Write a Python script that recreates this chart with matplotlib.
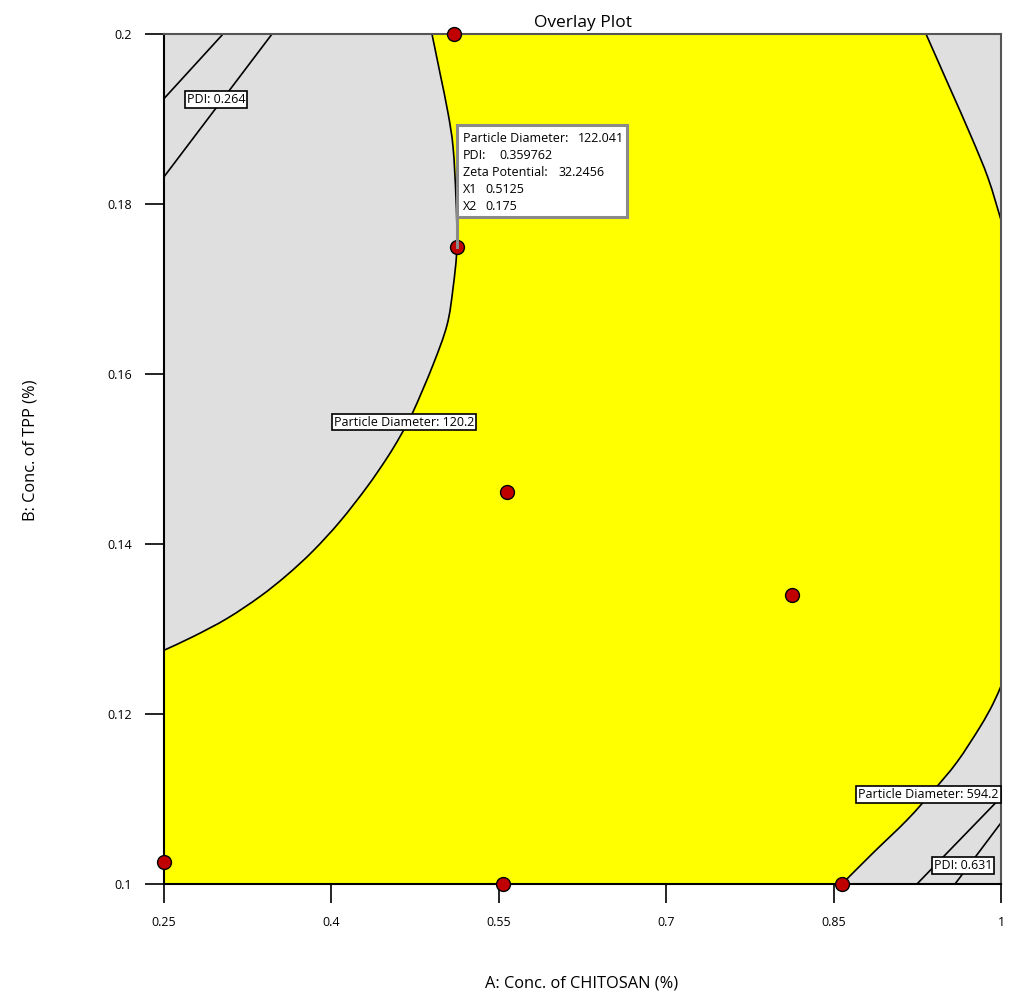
import matplotlib.pyplot as plt
from matplotlib.patches import Rectangle, PathPatch
from matplotlib.path import Path

plt.rcParams['font.family'] = ['Open Sans', 'DejaVu Sans']

# design points (A: chitosan %, B: TPP %)
pts_a = [0.51, 0.5125, 0.557, 0.8127, 0.25, 0.5538, 0.8575]
pts_b = [0.2, 0.175, 0.1461, 0.134, 0.1026, 0.1, 0.1]

# Particle Diameter = 120.2 boundary (left)
pd_low_a = [0.25, 0.2760, 0.3065, 0.3360, 0.3602, 0.3835, 0.4077, 0.4319, 0.4498, 0.4615,
            0.4731, 0.4910, 0.5036, 0.5090, 0.5125, 0.5116, 0.5090, 0.5045, 0.4973, 0.4901]
pd_low_b = [0.1275, 0.1291, 0.13124, 0.13382, 0.13635, 0.13918, 0.14265, 0.14671, 0.15012,
            0.15265, 0.15553, 0.16106, 0.16576, 0.17012, 0.1750, 0.1808, 0.1867, 0.1907,
            0.1954, 0.2]

# Particle Diameter = 594.2 boundary (top right and bottom right pieces)
pd_high_top_a = [0.9328, 0.9534, 0.9731, 0.9884, 1.0]
pd_high_top_b = [0.2, 0.19388, 0.1880, 0.18306, 0.17812]
pd_high_bot_a = [1.0, 0.9928, 0.9812, 0.9606, 0.9391, 0.9158, 0.8853, 0.8575]
pd_high_bot_b = [0.12329, 0.12118, 0.11847, 0.11435, 0.11094, 0.10753, 0.10365, 0.1]

# PDI contour lines
pdi_lines = [
    ([0.25, 0.3029], [0.1924, 0.2]),
    ([0.25, 0.3468], [0.1832, 0.2]),
    ([0.9247, 1.0], [0.1, 0.1102]),
    ([0.9588, 1.0], [0.1, 0.1072]),
]

contour_labels = [
    ('PDI: 0.264', 0.2966, 0.19229),
    ('Particle Diameter: 120.2', 0.4650, 0.15435),
    ('Particle Diameter: 594.2', 0.9350, 0.11053),
    ('PDI: 0.631', 0.9659, 0.10218),
]

flag_names = ['Particle Diameter:', 'PDI:', 'Zeta Potential:', 'X1', 'X2']
flag_values = ['122.041', '0.359762', '32.2456', '0.5125', '0.175']

x_ticks = [0.25, 0.4, 0.55, 0.7, 0.85, 1]
x_ticklabels = ['0.25', '0.4', '0.55', '0.7', '0.85', '1']
y_ticks = [0.1, 0.12, 0.14, 0.16, 0.18, 0.2]
y_ticklabels = ['0.1', '0.12', '0.14', '0.16', '0.18', '0.2']


def smooth_segments(xs, ys):
    # cubic bezier pieces (Catmull-Rom) passing through every given point
    p = list(zip(xs, ys))
    n = len(p)
    verts = []
    for i in range(n - 1):
        p0, p1, p2, p3 = p[max(i - 1, 0)], p[i], p[i + 1], p[min(i + 2, n - 1)]
        c1 = (p1[0] + (p2[0] - p0[0]) / 6, p1[1] + (p2[1] - p0[1]) / 6)
        c2 = (p2[0] - (p3[0] - p1[0]) / 6, p2[1] - (p3[1] - p1[1]) / 6)
        verts += [c1, c2, p2]
    return verts


def smooth_path(xs, ys):
    segs = smooth_segments(xs, ys)
    return Path([(xs[0], ys[0])] + segs, [Path.MOVETO] + [Path.CURVE4] * len(segs))


fig = plt.figure(figsize=(10.13, 9.93), dpi=100)
ax = fig.add_axes([164 / 1013, 1 - 884 / 993, 837 / 1013, 850 / 993])
ax.set_facecolor('#dfdfdf')

curves = [(pd_low_a, pd_low_b), (pd_high_top_a, pd_high_top_b),
          (pd_high_bot_a, pd_high_bot_b)]

# feasible (yellow) window
verts = [(0.25, 0.1), (pd_low_a[0], pd_low_b[0])]
codes = [Path.MOVETO, Path.LINETO]
for xs, ys in curves:
    if verts[-1] != (xs[0], ys[0]):
        verts.append((xs[0], ys[0]))
        codes.append(Path.LINETO)
    segs = smooth_segments(xs, ys)
    verts += segs
    codes += [Path.CURVE4] * len(segs)
verts.append((0.25, 0.1))
codes.append(Path.CLOSEPOLY)
ax.add_patch(PathPatch(Path(verts, codes), fc='#ffff00', lw=0, zorder=1))

lw = 1.2
for xs, ys in curves:
    ax.add_patch(PathPatch(smooth_path(xs, ys), fill=False, ec='black', lw=lw, zorder=2))
for la, lb in pdi_lines:
    ax.plot(la, lb, color='black', lw=lw, zorder=2)

for txt, tx, ty in contour_labels:
    ax.text(tx, ty, txt, fontsize=9, ha='center', va='center', zorder=3,
            bbox=dict(boxstyle='square,pad=0.15', fc='white', ec='black', lw=1.2))

ax.plot(pts_a, pts_b, 'o', ms=10, mfc='#c00000', mec='black', mew=1.0,
        clip_on=False, zorder=6)

# flag for the selected point
fa, fb = pts_a[1], pts_b[1]
ax.plot([fa, fa], [fb, 0.17847], color='#8a8a8a', lw=2.2, zorder=7)
ax.add_patch(Rectangle((fa, 0.17847), 0.6649 - fa, 0.18929 - 0.17847,
                       fc='white', ec='#8a8a8a', lw=2.2, zorder=7))
name_x = 0.5175
value_x = [0.6210, 0.5502, 0.6039, 0.5376, 0.5376]
line_y = [0.18765, 0.18565, 0.18365, 0.18176, 0.17976]
for name, val, vx, ly in zip(flag_names, flag_values, value_x, line_y):
    ax.text(name_x, ly, name, fontsize=9, ha='left', va='center', zorder=8)
    ax.text(vx, ly, val, fontsize=9, ha='left', va='center', zorder=8)

ax.set_xlim(0.25, 1)
ax.set_ylim(0.1, 0.2)
ax.set_xticks(x_ticks)
ax.set_xticklabels(x_ticklabels)
ax.set_yticks(y_ticks)
ax.set_yticklabels(y_ticklabels)
ax.tick_params(direction='out', length=14, width=1.2, labelsize=9, pad=9)
for side in ['left', 'bottom']:
    ax.spines[side].set_linewidth(1.5)
    ax.spines[side].set_color('black')
for side in ['top', 'right']:
    ax.spines[side].set_linewidth(1.5)
    ax.spines[side].set_color('#555555')

ax.set_title('Overlay Plot', fontsize=12.5, pad=5)
ax.set_xlabel('A: Conc. of CHITOSAN (%)', fontsize=11.8, va='center')
ax.set_ylabel('B: Conc. of TPP (%)', fontsize=11.8, va='center')
ax.xaxis.set_label_coords((582 - 164) / 837, (884 - 983) / 850)
ax.yaxis.set_label_coords((30 - 164) / 837, (884 - 450) / 850)

fig.savefig('out.png', dpi=100)
